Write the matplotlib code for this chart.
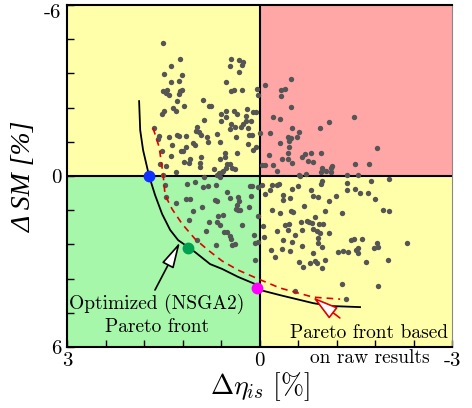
import numpy as np
import matplotlib
matplotlib.use('Agg')
import matplotlib.pyplot as plt
import matplotlib.transforms as mtransforms
from matplotlib.patches import Rectangle

# ---------------------------------------------------------------
#   raw design points  (d_eta_is [%], d_SM [%])
# ---------------------------------------------------------------
pts_nw = [(1.50,-4.67),(1.24,-4.11),(1.38,-3.86),(1.49,-3.58),(1.21,-3.54),(1.38,-3.30),(1.25,-3.33),(1.50,-2.98),(1.44,-3.02),(1.46,-2.91),
          (1.41,-2.84),(1.24,-2.98),(1.21,-3.02),(1.25,-2.88),(1.29,-2.63),(0.88,-2.67),(0.79,-2.46),(1.18,-2.46),(1.35,-2.39),(1.30,-2.28),
          (1.49,-2.28),(1.52,-2.18),(0.86,-1.96),(1.64,-1.68),(0.97,-1.72),(0.99,-1.58),(0.94,-1.54),(0.91,-1.44),(0.82,-1.37),(0.80,-1.19),
          (1.57,-1.40),(1.58,-1.30),(1.41,-1.37),(1.29,-1.44),(1.25,-1.40),(1.14,-1.40),(1.04,-1.16),(1.00,-1.09),(1.36,-1.09),(1.14,-1.02),
          (1.19,-0.88),(1.22,-0.88),(1.52,-0.88),(0.91,-0.67),(0.93,-0.46),(0.93,-0.32),(1.08,-0.60),(1.10,-0.46),(1.18,-0.49),(1.38,-0.70),
          (1.46,-0.35),(1.30,-0.14),(1.50,-0.04),(1.55,-0.42),
          (0.44,-4.11),(0.32,-4.07),(0.26,-4.00),(0.27,-3.89),(0.46,-3.86),(0.32,-3.65),(0.52,-3.30),(0.44,-2.98),(0.40,-3.02),(0.27,-3.02),
          (0.04,-3.05),(0.02,-2.84),(-0.09,-3.19),(0.76,-2.46),(0.52,-2.28),(0.60,-2.18),(0.52,-2.07),(0.60,-1.93),(0.40,-2.28),(0.35,-2.18),
          (0.19,-2.35),(0.21,-2.11),(0.21,-1.93),(0.10,-2.25),(0.05,-2.25),(0.13,-1.93),(0.44,-1.82),(0.38,-1.72),(0.46,-1.65),(0.29,-1.72),
          (0.26,-1.82),(0.18,-1.68),(-0.21,-2.07),(0.66,-1.47),(0.37,-1.37),(0.16,-1.44),(0.12,-1.44),(-0.01,-1.51),(0.62,-1.19),(0.18,-1.12),
          (0.05,-1.02),(0.10,-0.91),(0.54,-0.81),(0.54,-0.67),(0.62,-0.60),(0.35,-0.81),(-0.15,-0.74),(0.51,-0.42),(0.46,-0.42),(0.52,-0.28),
          (0.43,-0.28),(0.38,-0.25),(0.71,-0.25),(0.57,-0.18),(0.63,-0.11),(0.66,-0.04),(0.58,-0.14),(-0.09,-0.39),(-0.04,-0.39),(-0.21,-0.39)]

pts_ne = [(-0.49,-3.40),(-0.33,-3.02),(-0.40,-3.05),(-0.33,-2.81),(-0.49,-2.42),(-0.32,-2.00),(-1.08,-1.89),(-0.94,-1.68),(-0.51,-1.68),(-0.62,-1.54),
          (-0.58,-1.37),(-0.16,-1.51),(-0.44,-1.37),(-0.49,-1.33),(-0.46,-1.23),(-0.32,-1.16),(-0.46,-1.02),(-0.44,-0.81),(-0.44,-0.60),(-0.71,-0.77),
          (-0.66,-0.67),(-0.80,-0.81),(-0.96,-0.81),(-0.35,-0.60),(-0.51,-0.46),(-0.76,-0.53),(-0.83,-0.49),(-0.27,-0.18),(-0.97,-0.28),
          (-0.96,-0.14),(-1.04,-0.18),(-1.11,-0.28),(-1.13,-0.35),(-1.11,-0.14),(-0.72,-0.07),(-0.62,-0.04),
          (-1.47,-2.07),(-1.83,-0.98),(-1.49,-0.42),(-1.71,-0.42),(-1.53,-0.04),(-1.36,-0.04)]

pts_sw = [(1.47,0.32),(1.46,0.74),(1.30,0.95),(1.13,0.28),(1.00,0.21),(0.86,0.04),(0.80,0.35),(0.88,0.39),(1.14,0.81),(1.08,0.81),
          (1.04,1.23),(0.90,1.09),(1.10,1.54),(0.79,1.61),(0.83,1.93),(0.97,2.25),
          (0.62,0.04),(0.68,0.32),(0.69,0.84),(0.66,0.88),(0.51,0.56),(0.46,0.77),(0.33,0.74),(0.32,0.88),(0.35,1.02),(0.37,1.16),
          (0.33,1.19),(0.30,1.19),(0.15,0.35),(0.12,0.35),(0.02,0.39),(-0.04,0.32),(0.13,0.70),(0.16,1.09),(0.02,1.40),(0.57,1.37),
          (0.65,1.40),(0.66,1.61),(0.62,1.72),(0.51,1.96),(0.55,1.96),(0.46,2.11),(0.44,2.21),(0.43,2.42),(0.38,2.39),(0.27,1.72),
          (0.09,2.07),(0.07,2.35),(0.02,2.32),(0.07,2.95),(0.68,2.42),(-0.19,0.32),(-0.09,0.63),(-0.05,1.75),(-0.07,2.14)]

pts_se = [(-0.63,0.00),(-0.97,0.18),(-0.96,0.28),(-0.27,0.32),(-0.30,0.28),(-0.16,0.49),(-0.37,0.67),(-0.37,0.84),(-0.48,0.77),(-0.51,0.46),
          (-0.60,0.35),(-0.80,0.49),(-0.83,0.70),(-0.91,0.74),(-1.19,0.70),(-1.08,0.88),(-0.69,1.05),(-0.19,1.19),(-0.32,1.30),(-0.49,1.23),
          (-0.52,1.26),(-1.02,1.23),(-0.86,1.44),(-0.65,1.61),(-0.74,1.58),(-0.77,1.61),(-0.82,1.65),(-0.93,1.68),(-0.99,1.68),(-0.40,1.72),
          (-0.46,1.68),(-0.27,1.93),(-0.44,1.89),(-0.55,2.07),(-0.66,1.89),(-0.83,1.86),(-0.90,1.93),(-0.94,2.00),(-1.08,2.00),(-0.91,2.18),
          (-0.91,2.35),(-0.97,2.49),(-0.37,2.25),(-0.51,2.32),(-0.66,2.46),(-0.18,2.60),(-0.35,2.56),(-0.48,2.63),(-0.24,2.84),(-0.83,2.70),
          (-1.22,2.67),(-0.62,3.02),(-0.68,3.19),(-0.79,3.05),(-0.86,2.98),(-0.90,3.05),(-1.02,2.95),(-0.97,3.23),(-0.55,4.04),
          (-2.02,0.11),(-1.74,0.18),(-1.36,0.25),(-1.36,0.49),(-1.49,0.46),(-1.57,0.60),(-1.69,0.60),(-1.80,0.81),(-1.92,1.19),(-2.02,1.23),
          (-1.29,1.30),(-1.43,2.25),(-1.47,2.21),(-1.60,2.21),(-1.83,2.35),(-1.85,2.49),(-1.78,2.53),(-2.30,2.35),(-1.30,2.63),(-1.38,2.67),
          (-1.50,2.60),(-1.53,2.53),(-1.53,2.70),(-1.66,3.02),(-2.00,2.95),(-1.29,3.79),(-1.85,3.86),(-1.35,4.32)]

# optimized (NSGA2) pareto front
opt_eta = [1.877, 1.860, 1.815, 1.721, 1.628, 1.519, 1.394, 1.269, 1.160, 1.005,
           0.771, 0.584, 0.335, 0.070, -0.008, -0.319, -0.833, -1.098, -1.565]
opt_sm = [-2.63, -1.61, -0.91, 0.00, 0.67, 1.33, 1.89, 2.25, 2.42, 2.67,
          3.09, 3.26, 3.54, 3.79, 4.00, 4.18, 4.46, 4.56, 4.60]

# pareto front from raw results
raw_eta = [1.659, 1.565, 1.503, 1.472, 1.363, 1.207, 1.005, 0.802, 0.584, 0.335, 0.023, -0.319, -0.833, -1.254]
raw_sm = [-1.68, -1.02, -0.04, 0.67, 1.16, 1.68, 2.21, 2.60, 2.98, 3.30, 3.61, 3.93, 4.25, 4.32]

# selected designs
sel_eta = [1.72, 1.11, 0.04]
sel_sm = [0.00, 2.53, 3.93]
sel_col = ['#1030ff', '#00a050', '#ff00ff']

# =============================================================================
plt.rcParams['font.family'] = 'cmr10'
plt.rcParams['mathtext.fontset'] = 'cm'
plt.rcParams['axes.unicode_minus'] = False

fig = plt.figure(figsize=(4.72, 4.08), dpi=100)
ax = fig.add_axes([0.142, 0.1495, 0.816, 0.838])

yellow = '#ffffaa'
ax.add_patch(Rectangle((0, -6), 3, 6, fc=yellow, ec='none', zorder=0))
ax.add_patch(Rectangle((-3, -6), 3, 6, fc='#ffa6a6', ec='none', zorder=0))
ax.add_patch(Rectangle((0, 0), 3, 6, fc='#a6f7aa', ec='none', zorder=0))
ax.add_patch(Rectangle((-3, 0), 3, 6, fc=yellow, ec='none', zorder=0))

ax.set_xlim(3, -3)
ax.set_ylim(6, -6)
ax.axhline(0, color='k', lw=1.5, zorder=1)
ax.axvline(0, color='k', lw=1.5, zorder=1)

allpts = np.array(pts_nw + pts_ne + pts_sw + pts_se)
ax.scatter(allpts[:, 0], allpts[:, 1], s=15, color='#555555', lw=0, zorder=2)

ax.plot(opt_eta, opt_sm, color='k', lw=1.3, zorder=3)
ax.plot(raw_eta, raw_sm, color='#e00000', lw=1.2, ls=(0, (4, 3)), zorder=3)
for e, s, c in zip(sel_eta, sel_sm, sel_col):
    ax.plot(e, s, 'o', ms=7.5, color=c, mec=c, zorder=4)

xt = np.linspace(-3, 3, 11)
yt = np.linspace(-6, 6, 11)
ax.set_xticks(xt)
ax.set_xticklabels(['-3', '', '', '', '', '0', '', '', '', '', '3'])
ax.set_yticks(yt)
ax.set_yticklabels(['-6', '', '', '', '', '0', '', '', '', '', '6'])
ax.tick_params(direction='in', length=5, width=1, labelsize=15, pad=4)

# push the top "-6" label a bit down so it stays inside the figure
top_lab = ax.get_yticklabels()[0]
top_lab.set_transform(top_lab.get_transform() +
                      mtransforms.ScaledTranslation(0, -4 / 72, fig.dpi_scale_trans))

for side in ['left', 'bottom', 'top']:
    ax.spines[side].set_linewidth(1.5)
ax.spines['right'].set_color('#888888')

ax.set_xlabel(r'$\Delta\eta_{is}\ [\%]$', fontsize=20, labelpad=0)
ax.set_ylabel('Δ SM [%]', family='Liberation Serif', style='italic', fontsize=20, labelpad=5)

ax.text(1.60, 4.88, 'Optimized (NSGA2)\nPareto front', ha='center', va='center',
        fontsize=14, linespacing=1.25, zorder=5)
ax.annotate('', xy=(1.24, 2.32), xytext=(1.63, 4.0),
            arrowprops=dict(arrowstyle='-|>,head_length=0.8,head_width=0.2', fc='white', ec='k',
                            lw=1.2, mutation_scale=20, shrinkA=0, shrinkB=0), zorder=5)

ax.text(-1.71, 5.51, 'Pareto front based', ha='center', va='center',
        fontsize=14, zorder=5, clip_on=False)
ax.text(-1.71, 6.39, 'on raw results', ha='center', va='center',
        fontsize=14, zorder=5, clip_on=False)
ax.annotate('', xy=(-0.83, 4.25), xytext=(-1.25, 4.98),
            arrowprops=dict(arrowstyle='-|>,head_length=0.8,head_width=0.22', fc='white', ec='#e00000',
                            lw=1.2, mutation_scale=20, shrinkA=0, shrinkB=0), zorder=5)

fig.savefig('out.png', dpi=100)
